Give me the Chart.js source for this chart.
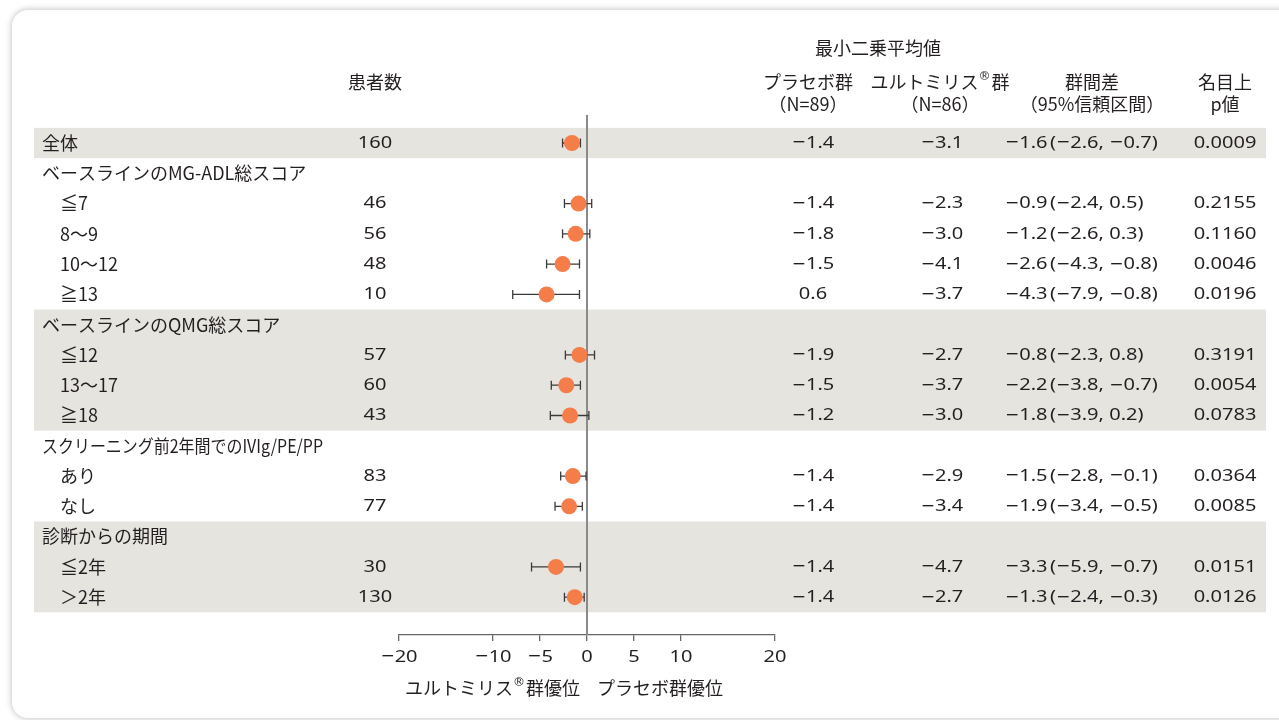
<!DOCTYPE html>
<html lang="ja">
<head>
<meta charset="utf-8">
<script src="https://cdn.jsdelivr.net/npm/chart.js@4.4.1/dist/chart.umd.min.js"></script>
<style>
  html, body { margin: 0; padding: 0; background: #fff; overflow: hidden; }
  #card {
    position: absolute; left: 12px; top: 10px; width: 1300px; height: 708px;
    background: #fff; border-radius: 16px;
    box-shadow: 0 0 7px rgba(0, 0, 0, 0.28);
  }
  #wrap { position: absolute; left: 0; top: 0; width: 1279px; height: 720px; }
</style>
</head>
<body>
<div id="card"></div>
<div id="wrap"><canvas id="forest"></canvas></div>
<script>
// サブグループ（行）
const rowLabels = ['全体', 'ベースラインのMG-ADL総スコア', '≦7', '8～9', '10～12', '≧13',
  'ベースラインのQMG総スコア', '≦12', '13～17', '≧18',
  'スクリーニング前2年間でのIVIg/PE/PP', 'あり', 'なし',
  '診断からの期間', '≦2年', '＞2年'];
const headerRows = [0, 1, 6, 10, 13];
const patients = [160, null, 46, 56, 48, 10, null, 57, 60, 43, null, 83, 77, null, 30, 130];
const placebo = [-1.4, null, -1.4, -1.8, -1.5, 0.6, null, -1.9, -1.5, -1.2, null, -1.4, -1.4, null, -1.4, -1.4];
const ultomiris = [-3.1, null, -2.3, -3.0, -4.1, -3.7, null, -2.7, -3.7, -3.0, null, -2.9, -3.4, null, -4.7, -2.7];
const diff = [-1.6, null, -0.9, -1.2, -2.6, -4.3, null, -0.8, -2.2, -1.8, null, -1.5, -1.9, null, -3.3, -1.3];
const ciLow = [-2.6, null, -2.4, -2.6, -4.3, -7.9, null, -2.3, -3.8, -3.9, null, -2.8, -3.4, null, -5.9, -2.4];
const ciHigh = [-0.7, null, 0.5, 0.3, -0.8, -0.8, null, 0.8, -0.7, 0.2, null, -0.1, -0.5, null, -0.7, -0.3];
const pValues = ['0.0009', null, '0.2155', '0.1160', '0.0046', '0.0196', null, '0.3191', '0.0054', '0.0783',
  null, '0.0364', '0.0085', null, '0.0151', '0.0126'];
const shadedGroups = [[0, 0], [6, 9], [13, 15]];
const xTicks = [-20, -10, -5, 0, 5, 10, 20];

const FONT = '"Noto Sans CJK JP", "Noto Sans", sans-serif';
const TEXT = '#231f20';
const SIZE = 18;
const MINUS = '\u2212';

function fmt(v) {
  const s = Math.abs(v).toFixed(1);
  return v < 0 ? MINUS + s : s;
}

// 上付き®を含む文字列
function drawRich(ctx, parts, x, y, align) {
  const fontOf = p => (p.sup ? '12px "DejaVu Sans"' : SIZE + 'px ' + FONT);
  const widths = parts.map(p => {
    ctx.font = fontOf(p);
    return ctx.measureText(p.t).width + (p.sup ? 1 : 0);
  });
  const total = widths.reduce((a, b) => a + b, 0);
  let cx = align === 'center' ? x - total / 2 : align === 'right' ? x - total : x;
  ctx.textAlign = 'left';
  parts.forEach((p, i) => {
    ctx.font = fontOf(p);
    ctx.fillText(p.t, cx, p.sup ? y - 5 : y);
    cx += widths[i];
  });
}

// 数字: 横に少し広げ、マイナスは長い字形で
function drawNum(ctx, text, x, y, align) {
  const runs = [];
  text.split(/(\u2212)/).forEach(t => {
    if (!t) return;
    if (t === MINUS) runs.push({ t, font: '17px "DejaVu Sans"', sx: 1 });
    else runs.push({ t, font: '17px "Noto Sans", sans-serif', sx: 1.18 });
  });
  ctx.save();
  ctx.textAlign = 'left';
  runs.forEach(r => { ctx.font = r.font; r.w = ctx.measureText(r.t).width * r.sx; });
  const total = runs.reduce((a, r) => a + r.w, 0);
  let cx = align === 'center' ? x - total / 2 : align === 'right' ? x - total : x;
  runs.forEach(r => {
    ctx.save();
    ctx.font = r.font;
    ctx.translate(cx, y);
    ctx.scale(r.sx, 1);
    ctx.fillText(r.t, 0, 0);
    ctx.restore();
    cx += r.w;
  });
  ctx.restore();
}

const points = [];
diff.forEach((d, i) => { if (d !== null) points.push({ x: d, y: i }); });

const forestPlugin = {
  id: 'forest',
  beforeDraw(chart) {
    const { ctx, scales: { y } } = chart;
    ctx.save();
    ctx.fillStyle = '#e5e4df';
    shadedGroups.forEach(([a, b]) => {
      const top = y.getPixelForValue(a - 0.5);
      const bot = y.getPixelForValue(b + 0.5);
      ctx.fillRect(34, top, 1266 - 34, bot - top);
    });
    ctx.restore();
  },
  beforeDatasetsDraw(chart) {
    const { ctx, chartArea, scales: { x, y } } = chart;
    ctx.save();
    // 0の縦線
    const x0 = x.getPixelForValue(0);
    ctx.strokeStyle = '#8a8a8a';
    ctx.lineWidth = 2;
    ctx.beginPath();
    ctx.moveTo(x0, chartArea.top);
    ctx.lineTo(x0, chartArea.bottom);
    ctx.stroke();
    // 95%信頼区間
    ctx.strokeStyle = '#3a3a3a';
    ctx.lineWidth = 1.3;
    diff.forEach((d, i) => {
      if (d === null) return;
      const py = y.getPixelForValue(i);
      const a = x.getPixelForValue(ciLow[i]);
      const b = x.getPixelForValue(ciHigh[i]);
      ctx.beginPath();
      ctx.moveTo(a, py); ctx.lineTo(b, py);
      ctx.moveTo(a, py - 4.5); ctx.lineTo(a, py + 4.5);
      ctx.moveTo(b, py - 4.5); ctx.lineTo(b, py + 4.5);
      ctx.stroke();
    });
    ctx.restore();
  },
  afterDraw(chart) {
    const { ctx, chartArea, scales: { x, y } } = chart;
    ctx.save();
    ctx.fillStyle = TEXT;
    ctx.textBaseline = 'middle';
    ctx.font = SIZE + 'px ' + FONT;

    // 見出し
    ctx.textAlign = 'center';
    ctx.fillText('最小二乗平均値', 878, 48);
    ctx.fillText('患者数', 375, 82);
    ctx.fillText('プラセボ群', 808, 82);
    drawRich(ctx, [{ t: 'ユルトミリス' }, { t: '®', sup: true }, { t: '群' }], 940, 82, 'center');
    ctx.font = SIZE + 'px ' + FONT;
    ctx.textAlign = 'center';
    ctx.fillText('群間差', 1092, 82);
    ctx.fillText('名目上', 1225, 82);
    ctx.fillText('（N=89）', 808, 104);
    ctx.fillText('（N=86）', 940, 104);
    ctx.fillText('（95%信頼区間）', 1092, 104);
    ctx.fillText('p値', 1225, 104);

    rowLabels.forEach((lab, i) => {
      const py = y.getPixelForValue(i);
      const isHeader = headerRows.includes(i);
      ctx.font = SIZE + 'px ' + FONT;
      ctx.textAlign = 'left';
      if (i === 10) ctx.fillText(lab, 42, py, 281);
      else ctx.fillText(lab, isHeader ? 42 : 60, py);
      if (patients[i] === null) return;
      drawNum(ctx, String(patients[i]), 375, py, 'center');
      drawNum(ctx, fmt(placebo[i]), 813, py, 'center');
      drawNum(ctx, fmt(ultomiris[i]), 942, py, 'center');
      drawNum(ctx, pValues[i], 1225, py, 'center');
      drawNum(ctx, fmt(diff[i]), 1005, py, 'left');
      drawNum(ctx, '(' + fmt(ciLow[i]) + ', ' + fmt(ciHigh[i]) + ')', 1050, py, 'left');
    });

    // x軸目盛ラベル
    xTicks.forEach(v => {
      drawNum(ctx, v < 0 ? MINUS + Math.abs(v) : String(v), x.getPixelForValue(v), chartArea.bottom + 22, 'center');
    });

    // x軸タイトル
    const x0 = x.getPixelForValue(0);
    drawRich(ctx, [{ t: 'ユルトミリス' }, { t: '®', sup: true }, { t: '群優位' }], x0 - 7, 688, 'right');
    ctx.font = SIZE + 'px ' + FONT;
    ctx.textAlign = 'left';
    ctx.fillText('プラセボ群優位', x0 + 10, 688);
    ctx.restore();
  }
};

new Chart(document.getElementById('forest'), {
  type: 'scatter',
  data: {
    datasets: [{
      data: points,
      backgroundColor: '#f47d4a',
      borderWidth: 0,
      pointRadius: 8,
      pointHoverRadius: 8
    }]
  },
  options: {
    responsive: true,
    maintainAspectRatio: false,
    animation: false,
    events: [],
    layout: { padding: { left: 399, right: 504, top: 115, bottom: 79 } },
    plugins: { legend: { display: false }, tooltip: { enabled: false } },
    scales: {
      x: {
        type: 'linear',
        min: -20,
        max: 20,
        afterBuildTicks: scale => { scale.ticks = xTicks.map(v => ({ value: v })); },
        grid: { drawOnChartArea: false, drawTicks: true, tickLength: 6, color: '#666', lineWidth: 1.3 },
        border: { display: true, color: '#666', width: 1.3 },
        ticks: { display: false }
      },
      y: {
        type: 'linear',
        reverse: true,
        min: -0.925,
        max: 16.25,
        display: false
      }
    }
  },
  plugins: [forestPlugin]
});
</script>
</body>
</html>
